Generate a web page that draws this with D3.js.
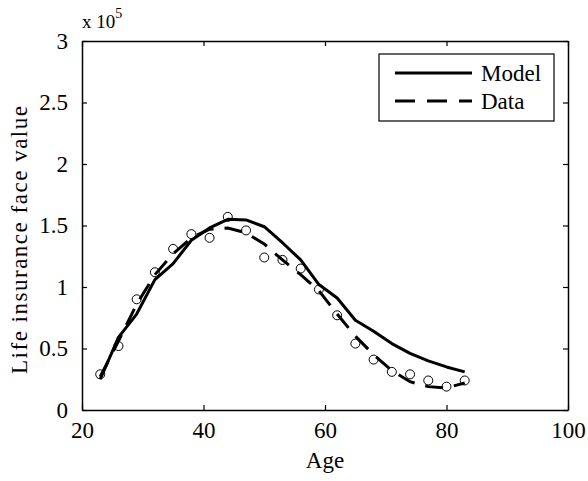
<!DOCTYPE html>
<html>
<head>
<meta charset="utf-8">
<script src="https://cdn.jsdelivr.net/npm/d3@7"></script>
<style>
  body { margin: 0; background: #fff; }
  svg text { font-family: 'Liberation Serif', serif; fill: #000; }
</style>
</head>
<body>
<div id="chart"></div>
<script>
// face value in units of 10^5
var ages = [23, 26, 29, 32, 35, 38, 41, 44, 47, 50, 53, 56, 59, 62, 65, 68, 71, 74, 77, 80, 83];
var observed = [0.29, 0.52, 0.90, 1.12, 1.31, 1.43, 1.40, 1.57, 1.46, 1.24, 1.22, 1.15, 0.98, 0.77, 0.54, 0.41, 0.31, 0.29, 0.24, 0.19, 0.24];
var model = [0.25, 0.59, 0.78, 1.06, 1.19, 1.38, 1.48, 1.55, 1.545, 1.49, 1.36, 1.22, 1.02, 0.91, 0.73, 0.64, 0.54, 0.46, 0.40, 0.35, 0.31];
var dataFit = [0.27, 0.56, 0.86, 1.10, 1.27, 1.40, 1.47, 1.48, 1.44, 1.35, 1.22, 1.10, 0.97, 0.78, 0.60, 0.45, 0.32, 0.23, 0.19, 0.18, 0.22];
var xTicks = [20, 40, 60, 80, 100];
var yTicks = [0, 0.5, 1, 1.5, 2, 2.5, 3];

var width = 588, height = 481;
var margin = {top: 41, right: 20, bottom: 71, left: 82};
var w = width - margin.left - margin.right,
    h = height - margin.top - margin.bottom;
var serif = "'Liberation Serif', serif";

var svg = d3.select("#chart").append("svg")
    .attr("width", width)
    .attr("height", height);

var g = svg.append("g")
    .attr("transform", "translate(" + margin.left + "," + margin.top + ")");

var x = d3.scaleLinear().domain([20, 100]).range([0, w]);
var y = d3.scaleLinear().domain([0, 3]).range([h, 0]);

function fmt(d) { return d3.format("")(d); }

// axes with inward ticks (MATLAB style box)
var axB = g.append("g").attr("transform", "translate(0," + h + ")")
    .call(d3.axisBottom(x).tickValues(xTicks).tickSizeInner(-5).tickSizeOuter(0).tickFormat(fmt));
var axT = g.append("g")
    .call(d3.axisTop(x).tickValues(xTicks).tickSizeInner(-5).tickSizeOuter(0).tickFormat(""));
var axL = g.append("g")
    .call(d3.axisLeft(y).tickValues(yTicks).tickSizeInner(-5).tickSizeOuter(0).tickPadding(14).tickFormat(fmt));
var axR = g.append("g").attr("transform", "translate(" + w + ",0)")
    .call(d3.axisRight(y).tickValues(yTicks).tickSizeInner(-5).tickSizeOuter(0).tickFormat(""));

[axB, axT, axL, axR].forEach(function(a) {
  a.attr("font-family", serif);
  a.select(".domain").attr("stroke", "#000").attr("stroke-width", 1.5);
  a.selectAll(".tick line").attr("stroke", "#000").attr("stroke-width", 1.2);
  a.selectAll(".tick text").style("font-size", "23px").style("font-family", serif).attr("fill", "#000");
});
axB.selectAll(".tick text").attr("y", 28).attr("dy", null);

var line = d3.line()
    .x(function(d, i) { return x(ages[i]); })
    .y(function(d) { return y(d); });

g.append("path")
    .datum(model)
    .attr("fill", "none")
    .attr("stroke", "#000")
    .attr("stroke-width", 3)
    .attr("stroke-linejoin", "round")
    .attr("d", line);

g.append("path")
    .datum(dataFit)
    .attr("fill", "none")
    .attr("stroke", "#000")
    .attr("stroke-width", 3)
    .attr("stroke-dasharray", "18,11")
    .attr("d", line);

g.selectAll("circle.obs")
    .data(observed)
  .enter().append("circle")
    .attr("class", "obs")
    .attr("cx", function(d, i) { return x(ages[i]); })
    .attr("cy", function(d) { return y(d); })
    .attr("r", 4.5)
    .attr("fill", "none")
    .attr("stroke", "#000")
    .attr("stroke-width", 1);

// exponent label
var ex = svg.append("text")
    .attr("x", margin.left)
    .attr("y", 28)
    .style("font-family", serif)
    .style("font-size", "19px");
ex.append("tspan").text("x 10");
ex.append("tspan").attr("dy", -10).style("font-size", "14px").text("5");

// axis labels
svg.append("text")
    .attr("x", margin.left + w / 2)
    .attr("y", 468)
    .attr("text-anchor", "middle")
    .style("font-family", serif)
    .style("font-size", "23px")
    .text("Age");

svg.append("text")
    .attr("transform", "translate(27,240) rotate(-90)")
    .attr("text-anchor", "middle")
    .attr("textLength", 268)
    .attr("lengthAdjust", "spacing")
    .style("font-family", serif)
    .style("font-size", "23px")
    .text("Life insurance face value");

// legend
var leg = svg.append("g").attr("transform", "translate(379,54)");
leg.append("rect")
    .attr("width", 175).attr("height", 67)
    .attr("fill", "#fff").attr("stroke", "#000").attr("stroke-width", 1.2);
var items = [{name: "Model", dash: null}, {name: "Data", dash: "20,12"}];
items.forEach(function(it, i) {
  var yy = 19 + i * 28;
  leg.append("line")
      .attr("x1", 16).attr("x2", 93).attr("y1", yy).attr("y2", yy)
      .attr("stroke", "#000").attr("stroke-width", 3)
      .attr("stroke-dasharray", it.dash);
  leg.append("text")
      .attr("x", 102).attr("y", yy).attr("dy", "0.35em")
      .style("font-family", serif)
      .style("font-size", "23px")
      .text(it.name);
});
</script>
</body>
</html>
